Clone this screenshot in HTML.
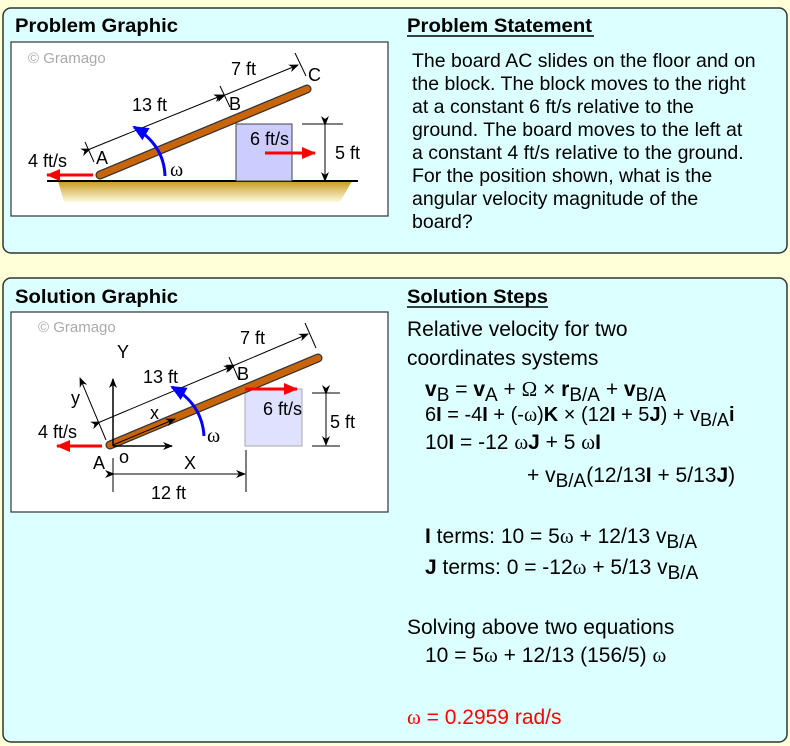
<!DOCTYPE html>
<html><head><meta charset="utf-8"><style>
html,body{margin:0;padding:0;background:#ffffd8;}
svg{display:block;font-family:"Liberation Sans",sans-serif;}
</style></head><body>
<svg width="790" height="746" viewBox="0 0 790 746" xmlns="http://www.w3.org/2000/svg">
<defs>
<linearGradient id="g" x1="0" y1="0" x2="0" y2="1"><stop offset="0" stop-color="#c89a1e"/><stop offset="1" stop-color="#fffbe0"/></linearGradient>
<marker id="ak" markerWidth="10" markerHeight="8" refX="9" refY="4" orient="auto" markerUnits="userSpaceOnUse"><path d="M0,0 L10,4 L0,8 L3,4Z" fill="#000"/></marker>
<marker id="ar" markerWidth="14" markerHeight="12" refX="13" refY="6" orient="auto" markerUnits="userSpaceOnUse"><path d="M0,0 L14,6 L0,12Z" fill="#f00"/></marker>
<marker id="ab" markerWidth="16" markerHeight="14" refX="14" refY="7" orient="auto" markerUnits="userSpaceOnUse"><path d="M0,0 L16,7 L0,14Z" fill="#00f"/></marker>
</defs>
<rect width="790" height="746" fill="#ffffd8"/>
<rect x="3" y="8" width="784" height="245" rx="8" fill="#dcffff" stroke="#333" stroke-width="1.5"/>
<rect x="3" y="278" width="784" height="464" rx="8" fill="#dcffff" stroke="#333" stroke-width="1.5"/>

<g font-weight="bold" font-size="19">
<text x="15" y="32" textLength="163" lengthAdjust="spacingAndGlyphs">Problem Graphic</text>
<text x="407" y="32" textLength="185" lengthAdjust="spacingAndGlyphs">Problem Statement</text>
<text x="15" y="303" textLength="163" lengthAdjust="spacingAndGlyphs">Solution Graphic</text>
<text x="407" y="303" textLength="141" lengthAdjust="spacingAndGlyphs">Solution Steps</text>
</g>
<line x1="407" y1="36" x2="594" y2="36" stroke="#000" stroke-width="1.5"/>
<line x1="407" y1="307" x2="548" y2="307" stroke="#000" stroke-width="1.5"/>

<g font-size="19.5">
<text x="412" y="67">The board AC slides on the floor and on</text>
<text x="412" y="90">the block. The block moves to the right</text>
<text x="412" y="113">at a constant 6 ft/s relative to the</text>
<text x="412" y="136">ground. The board moves to the left at</text>
<text x="412" y="159">a constant 4 ft/s relative to the ground.</text>
<text x="412" y="182">For the position shown, what is the</text>
<text x="412" y="205">angular velocity magnitude of the</text>
<text x="412" y="228">board?</text>
</g>

<!-- Problem graphic -->
<rect x="11" y="42" width="377" height="174" fill="#fff" stroke="#333" stroke-width="1.2"/>
<text x="28" y="63" font-size="15" fill="#aaa">© Gramago</text>
<path d="M58,181 L352,181 L340,202 L64,202Z" fill="url(#g)"/>
<line x1="47" y1="181" x2="358" y2="181" stroke="#000" stroke-width="2"/>
<rect x="236" y="124" width="56" height="57" fill="#ccccff" stroke="#444"/>
<line x1="100" y1="175" x2="307" y2="89" stroke="#333" stroke-width="9" stroke-linecap="round"/>
<line x1="100" y1="175" x2="307" y2="89" stroke="#c8640a" stroke-width="6.5" stroke-linecap="round"/>
<g stroke="#000" stroke-width="1">
<line x1="90" y1="149" x2="223" y2="95" marker-start="url(#ak)" marker-end="url(#ak)"/>
<line x1="225" y1="95" x2="298" y2="65" marker-start="url(#ak)" marker-end="url(#ak)"/>
<line x1="85" y1="142" x2="94" y2="162"/>
<line x1="220" y1="86" x2="230" y2="107"/>
<line x1="295" y1="53" x2="306" y2="76"/>
<line x1="302" y1="124" x2="343" y2="124"/>
<line x1="325" y1="125" x2="325" y2="181" marker-start="url(#ak)" marker-end="url(#ak)"/>
</g>
<line x1="93" y1="175" x2="47" y2="175" stroke="#f00" stroke-width="3" marker-end="url(#ar)"/>
<line x1="265" y1="153" x2="315" y2="153" stroke="#f00" stroke-width="3" marker-end="url(#ar)"/>
<path d="M165,176 Q164,145 134,127" fill="none" stroke="#00f" stroke-width="3" marker-end="url(#ab)"/>
<g font-size="18">
<text x="231" y="75">7 ft</text>
<text x="308" y="81">C</text>
<text x="132" y="111">13 ft</text>
<text x="229" y="110">B</text>
<text x="96" y="164">A</text>
<text x="28" y="167">4 ft/s</text>
<text x="250" y="145">6 ft/s</text>
<text x="335" y="159">5 ft</text>
<text x="170" y="176" font-size="20" font-family="Liberation Serif,serif">ω</text>
</g>

<!-- Solution graphic -->
<rect x="11" y="312" width="377" height="200" fill="#fff" stroke="#333" stroke-width="1.2"/>
<text x="38" y="332" font-size="15" fill="#aaa">© Gramago</text>
<rect x="245" y="389" width="57" height="57" fill="#e0e0ff" stroke="#aaa"/>
<line x1="110" y1="445" x2="318" y2="358" stroke="#333" stroke-width="9" stroke-linecap="round"/>
<line x1="110" y1="445" x2="318" y2="358" stroke="#c8640a" stroke-width="6.5" stroke-linecap="round"/>
<g stroke="#000" stroke-width="1">
<line x1="100" y1="422" x2="233" y2="366" marker-start="url(#ak)" marker-end="url(#ak)"/>
<line x1="235" y1="365" x2="308" y2="334" marker-start="url(#ak)" marker-end="url(#ak)"/>
<line x1="229" y1="357" x2="239" y2="380"/>
<line x1="305" y1="323" x2="316" y2="348"/>
<line x1="106" y1="440" x2="80" y2="378" marker-end="url(#ak)"/>
<line x1="113" y1="446" x2="113" y2="379" marker-end="url(#ak)" stroke-width="1.5"/>
<line x1="113" y1="446" x2="172" y2="446" marker-end="url(#ak)" stroke-width="1.5"/>
<line x1="113" y1="445" x2="175" y2="419" marker-end="url(#ak)"/>
<line x1="113" y1="458" x2="113" y2="492"/>
<line x1="246" y1="450" x2="246" y2="492"/>
<line x1="114" y1="474" x2="245" y2="474" marker-start="url(#ak)" marker-end="url(#ak)"/>
<line x1="312" y1="393" x2="340" y2="393"/>
<line x1="312" y1="446" x2="340" y2="446"/>
<line x1="326" y1="394" x2="326" y2="445" marker-start="url(#ak)" marker-end="url(#ak)"/>
</g>
<line x1="102" y1="446" x2="57" y2="446" stroke="#f00" stroke-width="3" marker-end="url(#ar)"/>
<line x1="245" y1="389" x2="297" y2="389" stroke="#f00" stroke-width="3" marker-end="url(#ar)"/>
<path d="M204,436 Q202,404 172,387" fill="none" stroke="#00f" stroke-width="3" marker-end="url(#ab)"/>
<g font-size="18">
<text x="240" y="344">7 ft</text>
<text x="143" y="383">13 ft</text>
<text x="237" y="380">B</text>
<text x="117" y="358">Y</text>
<text x="71" y="404">y</text>
<text x="150" y="419">x</text>
<text x="38" y="438">4 ft/s</text>
<text x="263" y="415">6 ft/s</text>
<text x="330" y="428">5 ft</text>
<text x="93" y="469">A</text>
<text x="119" y="463">o</text>
<text x="184" y="469">X</text>
<text x="151" y="499">12 ft</text>
<text x="207" y="442" font-size="20" font-family="Liberation Serif,serif">ω</text>
</g>

<!-- Solution steps -->
<g font-size="21">
<text x="407" y="336">Relative velocity for two</text>
<text x="407" y="365">coordinates systems</text>
<text x="425" y="396"><tspan font-weight="bold">v</tspan><tspan font-size="19" dy="5">B</tspan><tspan dy="-5"> = </tspan><tspan font-weight="bold">v</tspan><tspan font-size="19" dy="5">A</tspan><tspan dy="-5"> + </tspan><tspan font-family="Liberation Serif,serif">Ω</tspan> × <tspan font-weight="bold">r</tspan><tspan font-size="19" dy="5">B/A</tspan><tspan dy="-5"> + </tspan><tspan font-weight="bold">v</tspan><tspan font-size="19" dy="5">B/A</tspan></text>
</g>
<text x="425" y="421" font-size="20">6<tspan font-weight="bold">I</tspan> = -4<tspan font-weight="bold">I</tspan> + (-<tspan font-family="Liberation Serif,serif">ω</tspan>)<tspan font-weight="bold">K</tspan> × (12<tspan font-weight="bold">I</tspan> + 5<tspan font-weight="bold">J</tspan>) + v<tspan font-size="18" dy="5">B/A</tspan><tspan dy="-5" font-weight="bold">i</tspan></text>
<g font-size="21">
<text x="425" y="449">10<tspan font-weight="bold">I</tspan> = -12 <tspan font-family="Liberation Serif,serif">ω</tspan><tspan font-weight="bold">J</tspan> + 5 <tspan font-family="Liberation Serif,serif">ω</tspan><tspan font-weight="bold">I</tspan></text>
<text x="527" y="482">+ v<tspan font-size="19" dy="5">B/A</tspan><tspan dy="-5">(12/13</tspan><tspan font-weight="bold">I</tspan> + 5/13<tspan font-weight="bold">J</tspan>)</text>
<text x="425" y="543"><tspan font-weight="bold">I</tspan> terms: 10 = 5<tspan font-family="Liberation Serif,serif">ω</tspan> + 12/13 v<tspan font-size="19" dy="5">B/A</tspan></text>
<text x="425" y="574"><tspan font-weight="bold">J</tspan> terms: 0 = -12<tspan font-family="Liberation Serif,serif">ω</tspan> + 5/13 v<tspan font-size="19" dy="5">B/A</tspan></text>
<text x="407" y="634">Solving above two equations</text>
<text x="425" y="662">10 = 5<tspan font-family="Liberation Serif,serif">ω</tspan> + 12/13 (156/5) <tspan font-family="Liberation Serif,serif">ω</tspan></text>
<text x="407" y="724" fill="#f00"><tspan font-family="Liberation Serif,serif">ω</tspan> = 0.2959 rad/s</text>
</g>
</svg>
</body></html>
